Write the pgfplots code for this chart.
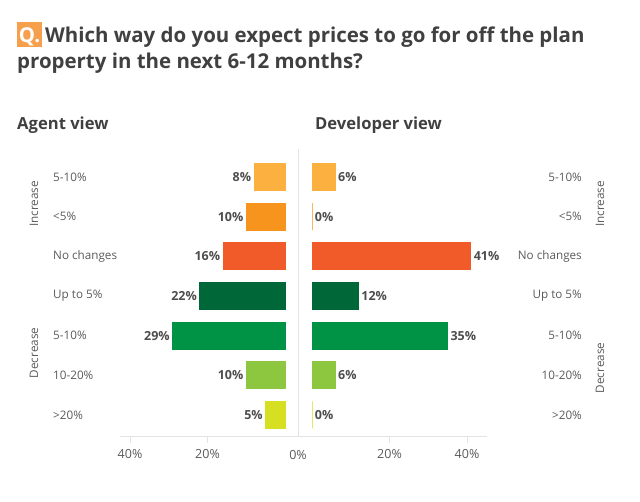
\documentclass[border=0pt]{standalone}
\usepackage{pgfplots}
\pgfplotsset{compat=1.18}
\usepackage{fontspec}
\setmainfont{Open Sans}
\definecolor{cA}{HTML}{FBB040}
\definecolor{cB}{HTML}{F7941E}
\definecolor{cC}{HTML}{F15A29}
\definecolor{cD}{HTML}{006838}
\definecolor{cE}{HTML}{009245}
\definecolor{cF}{HTML}{8DC63F}
\definecolor{cG}{HTML}{D7DF23}
\definecolor{titlegray}{HTML}{404040}
\definecolor{labgray}{HTML}{5A5A5A}
\definecolor{valgray}{HTML}{4D4D4D}
\definecolor{linegray}{HTML}{E3E3E3}
\definecolor{qorange}{HTML}{F6A04D}
\newcommand{\catfont}{\fontsize{11.7}{14}\selectfont}
\newcommand{\valfont}{\fontsize{12.5}{14}\selectfont\bfseries}
\newcommand{\tickfont}{\fontsize{12.5}{14}\selectfont}
\pgfplotsset{
  mb/.style={fill=#1, draw=#1, line width=0.8pt, bar shift=0pt},
  common/.style={
    scale only axis, height=287pt,
    ymin=0.47, ymax=7.706,
    xbar, bar width=27pt,
    axis x line*=bottom, axis y line=none,
    x axis line style={-, draw=linegray, line width=1pt},
    ytick=\empty,
    tick align=outside, major tick length=7pt,
    tick style={draw=linegray, line width=0.8pt},
    x tick label style={font=\tickfont, text=labgray, yshift=-3pt},
    /pgf/number format/assume math mode=true,
    clip=false,
    nodes near coords={\pgfmathprintnumber{\pgfplotspointmeta}\%},
  },
}
\begin{document}
\begin{tikzpicture}
\useasboundingbox (0,0) rectangle (640pt,501pt);
% title
\fill[qorange] (17pt,454pt) rectangle (42pt,479pt);
\node[anchor=base, text=white, inner sep=0pt, font=\fontsize{20.4}{24}\selectfont\bfseries] at (29.5pt,458pt) {Q.};
\node[anchor=base west, inner sep=0pt, text=titlegray, font=\fontsize{20.45}{24}\selectfont\bfseries] at (45pt,458pt) {Which way do you expect prices to go for off the plan};
\node[anchor=base west, inner sep=0pt, text=titlegray, font=\fontsize{20.45}{24}\selectfont\bfseries] at (17pt,432pt) {property in the next 6-12 months?};
% panel titles
\node[anchor=base west, inner sep=0pt, text=titlegray, font=\fontsize{16.6}{19}\selectfont\bfseries] at (17pt,371pt) {Agent view};
\node[anchor=base west, inner sep=0pt, text=titlegray, font=\fontsize{16.6}{19}\selectfont\bfseries] at (315pt,371pt) {Developer view};
% separator
\draw[linegray, line width=1pt] (298pt,65pt) -- (298pt,352pt);
\node[text=labgray, font=\tickfont, inner sep=0pt] at (298pt,46pt) {0\%};

% left: agent view
\begin{axis}[common,
  at={(120pt,65pt)}, anchor=south west, width=178pt,
  xmin=-3.35, xmax=42.58, x dir=reverse,
  xtick={20,40}, xticklabels={20\%,40\%},
  every node near coord/.append style={anchor=east, font=\valfont, text=valgray, inner sep=2.5pt},
]
\addplot[mb=cA] coordinates {(8,7)};
\addplot[mb=cB] coordinates {(10,6)};
\addplot[mb=cC] coordinates {(16,5)};
\addplot[mb=cD] coordinates {(22,4)};
\addplot[mb=cE] coordinates {(29,3)};
\addplot[mb=cF] coordinates {(10,2)};
\addplot[mb=cG] coordinates {(5,1)};
\begin{scope}[every node/.style={font=\catfont, text=labgray, inner sep=0pt}]
\node[anchor=west] at (axis cs:59.87,7) {5-10\%};
\node[anchor=west] at (axis cs:59.87,6) {<5\%};
\node[anchor=west] at (axis cs:59.87,5) {No changes};
\node[anchor=west] at (axis cs:59.87,4) {Up to 5\%};
\node[anchor=west] at (axis cs:59.87,3) {5-10\%};
\node[anchor=west] at (axis cs:59.87,2) {10-20\%};
\node[anchor=west] at (axis cs:59.87,1) {>20\%};
\node[rotate=90] at (axis cs:64.77,6.32) {Increase};
\node[rotate=90] at (axis cs:64.77,2.563) {Decrease};
\end{scope}
\end{axis}

% right: developer view
\begin{axis}[common,
  at={(298pt,65pt)}, anchor=south west, width=189pt,
  xmin=-3.613, xmax=45.16,
  xtick={20,40}, xticklabels={20\%,40\%},
  every node near coord/.append style={anchor=west, font=\valfont, text=valgray, inner sep=2.5pt},
]
\addplot[mb=cA] coordinates {(6,7)};
\addplot[mb=cB] coordinates {(0,6)};
\addplot[mb=cC] coordinates {(41,5)};
\addplot[mb=cD] coordinates {(12,4)};
\addplot[mb=cE] coordinates {(35,3)};
\addplot[mb=cF] coordinates {(6,2)};
\addplot[mb=cG] coordinates {(0,1)};
\begin{scope}[every node/.style={font=\catfont, text=labgray, inner sep=0pt}]
\node[anchor=east] at (axis cs:69.68,7) {5-10\%};
\node[anchor=east] at (axis cs:69.68,6) {<5\%};
\node[anchor=east] at (axis cs:69.68,5) {No changes};
\node[anchor=east] at (axis cs:69.68,4) {Up to 5\%};
\node[anchor=east] at (axis cs:69.68,3) {5-10\%};
\node[anchor=east] at (axis cs:69.68,2) {10-20\%};
\node[anchor=east] at (axis cs:69.68,1) {>20\%};
\node[rotate=90] at (axis cs:74.3,6.32) {Increase};
\node[rotate=90] at (axis cs:74.3,2.185) {Decrease};
\end{scope}
\end{axis}
\end{tikzpicture}
\end{document}
